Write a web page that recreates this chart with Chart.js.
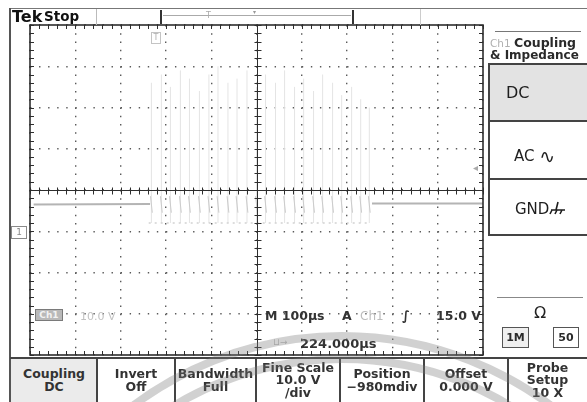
<!DOCTYPE html>
<html>
<head>
<meta charset="utf-8">
<script src="https://cdn.jsdelivr.net/npm/chart.js@4.4.0/dist/chart.umd.min.js"></script>
<style>
html, body { margin: 0; padding: 0; background: #fff; }
#wrap { position: relative; width: 587px; height: 402px; overflow: hidden; background: #fff;
        font-family: "DejaVu Sans", sans-serif; color: #2b2b2b; }
#scope { position: absolute; left: 0; top: 0; }
#arcs { position: absolute; left: 0; top: 0; pointer-events: none; }
.t { position: absolute; white-space: nowrap; line-height: 1; }
.ln { position: absolute; background: #444; }
.btn { position: absolute; top: 359px; height: 43px; display: flex; flex-direction: column;
       justify-content: center; align-items: center; font-weight: bold; font-size: 12.5px;
       line-height: 12.5px; color: #333; text-align: center; }
.pbox { position: absolute; left: 488px; width: 99px; box-sizing: border-box; border-left: 2px solid #444; }
.sbox { position: absolute; top: 327px; height: 21px; box-sizing: border-box; border: 1.5px solid #555;
        font-weight: bold; font-size: 11px; display: flex; align-items: center; justify-content: center; }
</style>
</head>
<body>
<div id="wrap">
  <canvas id="scope" width="587" height="402"></canvas>

  <!-- frame and top bar -->
  <div class="ln" style="left:10px;top:8px;width:577px;height:1px;background:#777"></div>
  <div class="ln" style="left:9px;top:8px;width:2px;height:394px;background:#555"></div>
  <div class="t" style="left:12px;top:9px;font-size:16px;font-weight:bold;color:#111">Tek</div>
  <div class="t" style="left:44px;top:10px;font-size:13.5px;font-weight:bold;color:#111">Stop</div>
  <div class="ln" style="left:96px;top:9px;width:1px;height:16px;background:#bbb"></div>
  <div class="ln" style="left:160px;top:10px;width:2px;height:14px;background:#333"></div>
  <div class="ln" style="left:352px;top:10px;width:2px;height:14px;background:#333"></div>
  <div class="ln" style="left:163px;top:15px;width:188px;height:1px;background:#aaa"></div>
  <div class="t" style="left:206px;top:12px;font-size:8px;color:#aaa">T</div>
  <div class="t" style="left:253px;top:9px;font-size:6px;color:#999">▾</div>
  <div class="ln" style="left:420px;top:9px;width:1px;height:16px;background:#ccc"></div>

  <!-- markers around plot -->
  <div class="t" style="left:11px;top:226px;width:14px;height:11px;border:1px solid #8a8a8a;font-size:9px;color:#8a8a8a;text-align:center;line-height:11px">1</div>
  <div class="t" style="left:151px;top:32px;width:8px;height:10px;border:1px solid #c4c4c4;font-size:8px;color:#b0b0b0;text-align:center;line-height:10px">T</div>
  <div class="t" style="left:473px;top:163px;font-size:10px;color:#aaa">◂</div>

  <!-- readouts inside the graticule -->
  <div class="t" style="left:35px;top:309px;width:28px;height:12px;box-sizing:border-box;background:#b9b9b9;border:1px solid #7a7a7a;font-size:9px;font-weight:bold;color:#f2f2f2;text-align:center;line-height:10px">Ch1</div>
  <div class="t" style="left:80px;top:311px;font-size:11px;color:#c2c2c2">10.0 V</div>
  <div class="t" style="left:265px;top:310px;font-size:12.5px;font-weight:bold;color:#333">M 100µs</div>
  <div class="t" style="left:342px;top:310px;font-size:12.5px;font-weight:bold;color:#333">A</div>
  <div class="t" style="left:360px;top:310px;font-size:12px;color:#bdbdbd">Ch1</div>
  <div class="t" style="left:402px;top:309px;font-size:13px;font-style:italic;font-weight:bold;color:#333">∫</div>
  <div class="t" style="left:436px;top:310px;font-size:12.5px;font-weight:bold;color:#333">15.0 V</div>
  <div class="t" style="left:273px;top:338px;font-size:9px;color:#bdbdbd">⊔→</div>
  <div class="t" style="left:300px;top:337px;font-size:13px;font-weight:bold;color:#333">224.000µs</div>

  <!-- right side menu -->
  <div class="ln" style="left:495px;top:31px;width:86px;height:1px;background:#777"></div>
  <div class="t" style="left:490px;top:38px;font-size:10.5px;color:#b0b0b0">Ch1</div>
  <div class="t" style="left:514px;top:37px;font-size:12.5px;font-weight:bold;color:#2a2a2a">Coupling</div>
  <div class="t" style="left:490px;top:49px;font-size:12px;font-weight:bold;color:#2a2a2a">&amp; Impedance</div>
  <div class="pbox" style="top:63px;height:57px;background:#e3e3e3;border-top:2px solid #444"></div>
  <div class="pbox" style="top:120px;height:58px;border-top:2px solid #444"></div>
  <div class="pbox" style="top:178px;height:58px;border-top:2px solid #444;border-bottom:2px solid #444"></div>
  <div class="t" style="left:506px;top:85px;font-size:16px;color:#1e1e1e">DC</div>
  <div class="t" style="left:514px;top:145px;font-size:15px;color:#1e1e1e">AC <span style="font-size:19px;position:relative;top:2px">∿</span></div>
  <div class="t" style="left:515px;top:201px;font-size:15px;color:#1e1e1e">GND<svg width="18" height="14" viewBox="0 0 18 14" style="vertical-align:-1px"><path d="M9 1 L7 9 M2 9 L16 9 M3 9 L1 13 M8 9 L6 13 M13 9 L11 13" stroke="#1e1e1e" stroke-width="1.6" fill="none"/></svg></div>
  <div class="ln" style="left:497px;top:297px;width:86px;height:1px;background:#888"></div>
  <div class="t" style="left:534px;top:305px;font-size:16px;color:#222">Ω</div>
  <div class="sbox" style="left:502px;width:27px;background:#efefef">1M</div>
  <div class="sbox" style="left:553px;width:26px">50</div>

  <!-- bottom soft-key menu -->
  <div class="btn" style="left:11px;width:86px;background:#ebebeb">Coupling<br>DC</div>
  <div class="btn" style="left:97px;width:78px">Invert<br>Off</div>
  <div class="btn" style="left:175px;width:81px">Bandwidth<br>Full</div>
  <div class="btn" style="left:256px;width:84px">Fine Scale<br>10.0 V<br>/div</div>
  <div class="btn" style="left:340px;width:84px">Position<br>−980mdiv</div>
  <div class="btn" style="left:424px;width:84px">Offset<br>0.000 V</div>
  <div class="btn" style="left:508px;width:79px">Probe<br>Setup<br>10 X</div>
  <div class="ln" style="left:10px;top:357px;width:577px;height:2px"></div>
  <div class="ln" style="left:96px;top:357px;width:2px;height:45px"></div>
  <div class="ln" style="left:174px;top:357px;width:2px;height:45px"></div>
  <div class="ln" style="left:255px;top:357px;width:2px;height:45px"></div>
  <div class="ln" style="left:339px;top:357px;width:2px;height:45px"></div>
  <div class="ln" style="left:423px;top:357px;width:2px;height:45px"></div>
  <div class="ln" style="left:507px;top:357px;width:2px;height:45px"></div>

  <svg id="arcs" width="587" height="402">
    <g fill="none" stroke="rgba(120,120,120,0.34)" stroke-width="8">
      <circle cx="342" cy="684" r="348"></circle>
      <circle cx="342" cy="684" r="325"></circle>
    </g>
  </svg>
</div>

<script>
// time base: 100 µs/div, 10 divisions; vertical: 10 V/div, 8 divisions
var timeMin = 0, timeMax = 1000, timeStep = 100;
var voltMin = -30, voltMax = 50, voltStep = 10;

// quiet level before and after the burst (µs, V)
var traceLeftT = [8, 265];
var traceLeftV = [6.5, 6.6];
var traceRightT = [755, 1000];
var traceRightV = [6.7, 6.7];

// burst pulses (µs) and their peak voltage
var pulseT = [268, 290, 310, 332, 352, 374, 395, 415, 437, 457, 479, 500, 520, 542, 562, 584, 604, 626, 646, 668, 688, 710, 730, 749];
var pulseHigh = [36, 38, 35, 39, 37, 34, 38, 40, 36, 37, 39, 35, 38, 36, 39, 35, 37, 34, 38, 36, 33, 35, 32, 30];
var pulseLow = 2;
var edgeHigh = 8.5, edgeLow = 4.5;

// low level dotted run inside the burst
var burstLowT = [262, 748];
var burstLowV = [2, 2];

function toPoints(xs, ys) {
    return xs.map(function(t, i) { return {x: t, y: ys[i]}; });
}

var pulsePoints = [];
var edgePoints = [];
pulseT.forEach(function(t, i) {
    pulsePoints.push({x: t, y: pulseLow}, {x: t, y: pulseHigh[i]}, {x: t, y: null});
    edgePoints.push({x: t - 2, y: edgeHigh}, {x: t + 2, y: edgeLow}, {x: t, y: null});
});

var graticule = {
    id: 'graticule',
    afterDraw: function(chart) {
        var ctx = chart.ctx, a = chart.chartArea;
        var xs = chart.scales.x, ys = chart.scales.y;
        var cx = Math.round(xs.getPixelForValue((timeMin + timeMax) / 2)) + 0.5;
        var cy = Math.round(ys.getPixelForValue((voltMin + voltMax) / 2)) + 0.5;
        ctx.save();
        ctx.strokeStyle = '#2e2e2e';
        ctx.lineWidth = 1;
        ctx.beginPath();
        ctx.moveTo(a.left, cy); ctx.lineTo(a.right, cy);
        ctx.moveTo(cx, a.top); ctx.lineTo(cx, a.bottom);
        for (var t = timeMin; t <= timeMax; t += timeStep / 5) {
            var px = Math.round(xs.getPixelForValue(t)) + 0.5;
            ctx.moveTo(px, a.top); ctx.lineTo(px, a.top + 4);
            ctx.moveTo(px, a.bottom); ctx.lineTo(px, a.bottom - 4);
            ctx.moveTo(px, cy - 3); ctx.lineTo(px, cy + 4);
        }
        for (var v = voltMin; v <= voltMax; v += voltStep / 5) {
            var py = Math.round(ys.getPixelForValue(v)) + 0.5;
            ctx.moveTo(a.left, py); ctx.lineTo(a.left + 4, py);
            ctx.moveTo(a.right, py); ctx.lineTo(a.right - 4, py);
            ctx.moveTo(cx - 3, py); ctx.lineTo(cx + 4, py);
        }
        ctx.stroke();
        ctx.lineWidth = 1.6;
        ctx.strokeRect(a.left, a.top, a.right - a.left, a.bottom - a.top);
        ctx.restore();
    }
};

var chart = new Chart(document.getElementById('scope').getContext('2d'), {
    type: 'line',
    data: {
        datasets: [
            {data: toPoints(traceLeftT, traceLeftV), borderColor: '#b4b4b4', borderWidth: 2},
            {data: toPoints(traceRightT, traceRightV), borderColor: '#b4b4b4', borderWidth: 2},
            {data: edgePoints, borderColor: '#cbcbcb', borderWidth: 1},
            {data: toPoints(burstLowT, burstLowV), borderColor: '#d2d2d2', borderWidth: 1.5, borderDash: [2, 4]},
            {data: pulsePoints, borderColor: '#e4e4e4', borderWidth: 1}
        ]
    },
    options: {
        responsive: false,
        animation: false,
        spanGaps: false,
        layout: {padding: {left: 30, top: 25, right: 104, bottom: 47}},
        elements: {point: {radius: 0}, line: {tension: 0}},
        plugins: {legend: {display: false}, tooltip: {enabled: false}},
        scales: {
            x: {
                type: 'linear', min: timeMin, max: timeMax,
                ticks: {display: false, stepSize: timeStep},
                grid: {color: '#5a5a5a', lineWidth: 1.4, drawTicks: false},
                border: {display: false, dash: [1.4, 6.85]}
            },
            y: {
                min: voltMin, max: voltMax,
                ticks: {display: false, stepSize: voltStep},
                grid: {color: '#5a5a5a', lineWidth: 1.4, drawTicks: false},
                border: {display: false, dash: [1.4, 7.66]}
            }
        }
    },
    plugins: [graticule]
});
</script>
</body>
</html>
